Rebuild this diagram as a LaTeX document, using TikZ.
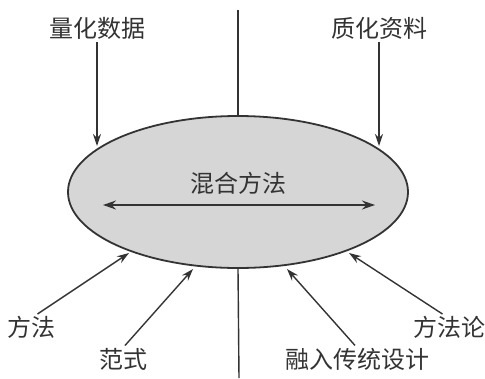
\documentclass[tikz,border=0pt]{standalone}
\usepackage{fontspec}
\newfontfamily\cjk{Noto Sans CJK SC}
\usetikzlibrary{shapes.geometric,arrows.meta}
\definecolor{ink}{HTML}{333333}
\definecolor{shade}{HTML}{D6D6D6}
\begin{document}
\begin{tikzpicture}[x=1pt,y=-1pt,
  lbl/.style={inner sep=0pt,text=ink,font=\cjk\fontsize{24}{24}\selectfont},
  arr/.style={draw=ink,line width=1.4pt,shorten <=3pt,-{Stealth[length=12pt,width=8pt]}},
  plain/.style={draw=ink,line width=1.4pt}]
\useasboundingbox (0,0) rectangle (485,378);
\node[ellipse,draw=ink,line width=1.8pt,fill=shade,minimum width=340pt,minimum height=152pt,inner sep=0] (E) at (238,192) {};
\node[lbl] (mix) at (238,183) {混合方法};
\coordinate (dl) at (103,205);
\coordinate (dr) at (375,205);
\draw[draw=ink,line width=1.6pt,{Stealth[length=13pt,width=9pt]}-{Stealth[length=13pt,width=9pt]}] (dl) -- (dr);
\coordinate (ttop) at (238,10);
\coordinate (bbot) at (239,378);
\draw[plain] (ttop) -- (E.north);
\draw[plain] (E.south) -- (bbot);
\node[lbl] (q) at (97,28) {量化数据};
\node[lbl] (z) at (379,28) {质化资料};
\node[lbl] (m) at (32,327) {方法};
\node[lbl] (f) at (123,359) {范式};
\node[lbl] (r) at (357,359) {融入传统设计};
\node[lbl] (ml) at (449,327) {方法论};
\coordinate (tq) at (97,146);
\coordinate (tz) at (379,146);
\coordinate (tm) at (129,253);
\coordinate (tf) at (193,269);
\coordinate (tr) at (287,269);
\coordinate (tml) at (349,253);
\draw[arr] (q.south) -- (tq);
\draw[arr] (z.south) -- (tz);
\draw[arr] ([xshift=3pt]m.north) -- (tm);
\draw[arr] (f.north) -- (tf);
\draw[arr] (r.north) -- (tr);
\draw[arr] ([xshift=-4pt]ml.north) -- (tml);
\end{tikzpicture}
\end{document}
